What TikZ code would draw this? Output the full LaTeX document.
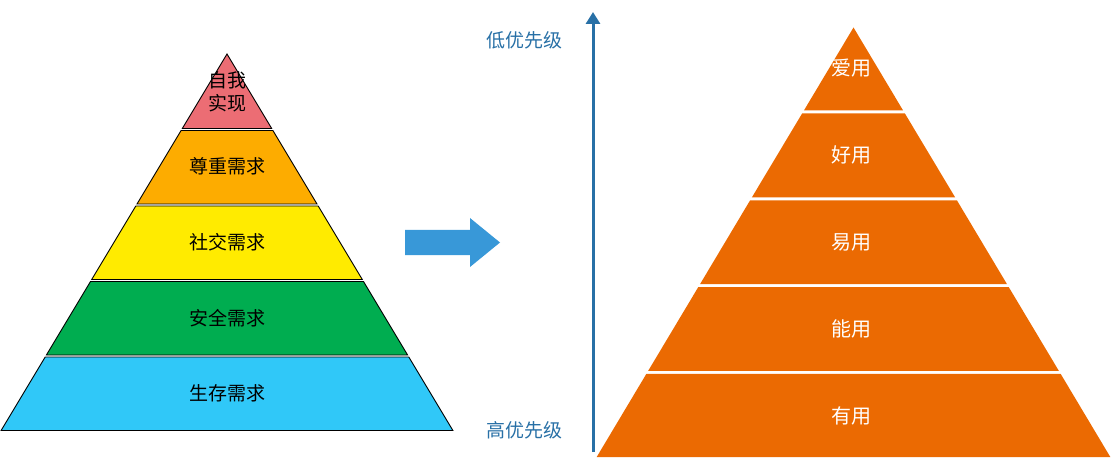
\documentclass[tikz,border=0pt]{standalone}
\usepackage{fontspec}
\usepackage{tikz}
\usetikzlibrary{arrows.meta}
\setmainfont{Noto Sans CJK SC}
\definecolor{selfred}{RGB}{236,109,116}
\definecolor{esteem}{RGB}{253,172,0}
\definecolor{social}{RGB}{255,235,0}
\definecolor{safety}{RGB}{0,173,80}
\definecolor{survive}{RGB}{48,200,248}
\definecolor{arrowblue}{RGB}{56,152,216}
\definecolor{axisblue}{RGB}{40,112,166}
\definecolor{useorange}{RGB}{235,106,2}

\begin{document}
\begin{tikzpicture}[x=1pt,y=-1pt,>={Triangle[width=14pt,length=12pt]}]
\tikzstyle{need}=[draw=black,line width=.9pt]
\tikzstyle{use}=[fill=useorange]
\tikzstyle{lab}=[font=\fontsize{19}{23}\selectfont,align=center,inner sep=0pt]
\tikzstyle{wlab}=[font=\fontsize{20}{24}\selectfont,text=white,inner sep=0pt]
\useasboundingbox(0,0)rectangle(1115,462);
  % Maslow pyramid
  \filldraw[need,fill=selfred](227,54)--(271.7,128.5)--(182.3,128.5)--cycle;
  \filldraw[need,fill=esteem](181.1,130.5)--(272.9,130.5)--(317,204)--(137,204)--cycle;
  \filldraw[need,fill=social](135.8,206)--(318.2,206)--(362.3,279.5)--(91.7,279.5)--cycle;
  \filldraw[need,fill=safety](90.5,281.5)--(363.5,281.5)--(407.6,355)--(46.4,355)--cycle;
  \filldraw[need,fill=survive](45.2,357)--(408.8,357)--(452.9,430.5)--(1.1,430.5)--cycle;
  \node(self)at(227,91.5)[lab]{自我\\实现};
  \node(esteemtxt)at(227,166)[lab]{尊重需求};
  \node(socialtxt)at(227,242)[lab]{社交需求};
  \node(safetytxt)at(227,318.5)[lab]{安全需求};
  \node(survivetxt)at(227,393.5)[lab]{生存需求};
  % block arrow
  \fill[arrowblue](405,230)--(470,230)--(470,218)--(500,242.5)--(470,267)--(470,255)--(405,255)--cycle;
  % priority axis
  \coordinate(high)at(593,452);
  \coordinate(low)at(593,12);
  \draw[->,axisblue,line width=3pt](high)--(low);
  \node(lowtxt)at(524.5,40)[lab,text=axisblue]{低优先级};
  \node(hightxt)at(524.5,430)[lab,text=axisblue]{高优先级};
  % product pyramid
  \fill[use](853.5,27.5)--(903.1,110.5)--(803.9,110.5)--cycle;
  \fill[use](802.1,113.5)--(904.9,113.5)--(955.2,197.5)--(751.8,197.5)--cycle;
  \fill[use](750,200.5)--(957,200.5)--(1007,284.2)--(700,284.2)--cycle;
  \fill[use](698.2,287.2)--(1008.8,287.2)--(1058.8,370.8)--(648.2,370.8)--cycle;
  \fill[use](646.4,373.8)--(1060.6,373.8)--(1110.3,457)--(596.7,457)--cycle;
  \node(love)at(851.5,68)[wlab]{爱用};
  \node(good)at(851.5,155)[wlab]{好用};
  \node(easy)at(851.5,242)[wlab]{易用};
  \node(can)at(851.5,329)[wlab]{能用};
  \node(useful)at(851.5,416)[wlab]{有用};
\end{tikzpicture}
\end{document}
